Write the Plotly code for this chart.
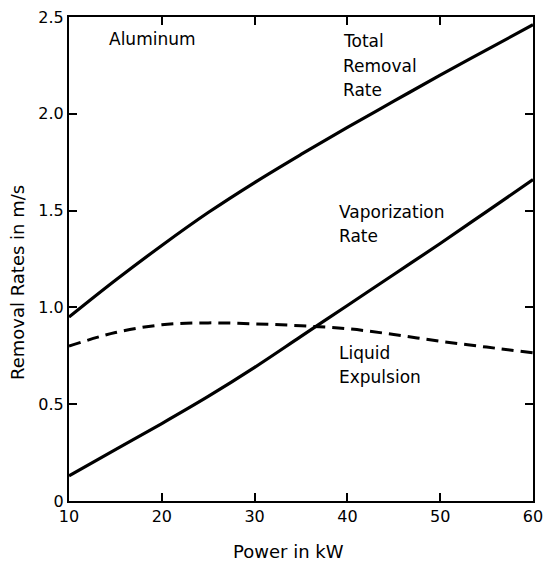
import plotly.graph_objects as go

power_kw = [10, 15, 20, 25, 30, 35, 40, 45, 50, 55, 60]
total_removal = [0.95, 1.14, 1.32, 1.49, 1.645, 1.79, 1.93, 2.065, 2.20, 2.33, 2.46]
vaporization = [0.13, 0.265, 0.40, 0.54, 0.69, 0.85, 1.01, 1.17, 1.33, 1.495, 1.66]
liquid_expulsion = [0.80, 0.87, 0.91, 0.92, 0.915, 0.905, 0.89, 0.86, 0.825, 0.795, 0.765]

x_ticks = [10, 20, 30, 40, 50, 60]
x_ticktext = ["10", "20", "30", "40", "50", "60"]
y_ticks = [0, 0.5, 1.0, 1.5, 2.0, 2.5]
y_ticktext = ["0", "0.5", "1.0", "1.5", "2.0", "2.5"]

FONT = "DejaVu Sans"
W, H = 543, 562
L, R, T, B = 69, 10, 17, 61

fig = go.Figure()
fig.add_trace(go.Scatter(x=power_kw, y=total_removal, mode="lines",
                         line=dict(color="black", width=3.2, shape="spline"), showlegend=False))
fig.add_trace(go.Scatter(x=power_kw, y=vaporization, mode="lines",
                         line=dict(color="black", width=3.2, shape="spline"), showlegend=False))
fig.add_trace(go.Scatter(x=power_kw, y=liquid_expulsion, mode="lines",
                         line=dict(color="black", width=3, shape="spline", dash="12px,7px"),
                         showlegend=False))

def px2paper(px, py):
    return (px - L) / (W - L - R), 1 - (py - T) / (H - T - B)

def label(text, px, py, size=17, anchor="left"):
    xp, yp = px2paper(px, py)
    fig.add_annotation(text=text, x=xp, y=yp, xref="paper", yref="paper",
                       xanchor=anchor, yanchor="middle", showarrow=False,
                       font=dict(family=FONT, size=size, color="black"))

label("Aluminum", 107, 39)
label("Total", 341, 41)
label("Removal", 341, 66)
label("Rate", 341, 90)
label("Vaporization", 337, 212)
label("Rate", 337, 236)
label("Liquid", 337, 353)
label("Expulsion", 337, 377)
label("Power in kW", 288, 551, size=18, anchor="center")

xp, yp = px2paper(17, 283)
fig.add_annotation(text="Removal Rates in m/s", x=xp, y=yp, xref="paper", yref="paper",
                   xanchor="center", yanchor="middle", showarrow=False, textangle=-90,
                   font=dict(family=FONT, size=18, color="black"))

axis_common = dict(showline=True, linecolor="black", linewidth=2, mirror="ticks",
                   ticks="inside", ticklen=8, tickwidth=1.5, tickcolor="black",
                   showgrid=False, zeroline=False, automargin=False,
                   ticklabeloverflow="allow",
                   tickfont=dict(family=FONT, size=16, color="black"))

fig.update_xaxes(range=[10, 60], tickvals=x_ticks, ticktext=x_ticktext, **axis_common)
fig.update_yaxes(range=[0, 2.5], tickvals=y_ticks, ticktext=y_ticktext, **axis_common)

fig.update_layout(width=W, height=H, margin=dict(l=L, r=R, t=T, b=B),
                  plot_bgcolor="white", paper_bgcolor="white",
                  font=dict(family=FONT, color="black"))

fig.write_html("out.html")
